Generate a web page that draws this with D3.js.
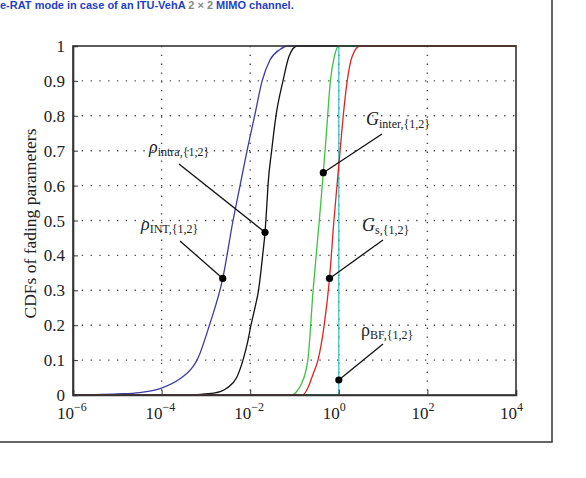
<!DOCTYPE html>
<html>
<head>
<meta charset="utf-8">
<script src="https://cdn.jsdelivr.net/npm/d3@7"></script>
<style>
  body { margin: 0; background: #fff; }
  svg { display: block; }
  text { font-family: 'Liberation Serif', 'DejaVu Serif', serif; fill: #222; }
</style>
</head>
<body>
<div id="chart"></div>
<script>
// CDF curves: x values and cumulative probability
const rhoIntX = [1e-6, 3.2e-6, 1e-5, 3.2e-5, 1e-4, 2.5e-4, 5e-4, 6.3e-4, 1.2e-3, 2.4e-3, 4.1e-3, 5.9e-3, 8.5e-3, 1.26e-2, 1.86e-2, 2.8e-2, 4.7e-2, 7.1e-2, 1e4]
const rhoIntF = [0, 0.001, 0.003, 0.007, 0.02, 0.045, 0.08, 0.1, 0.2, 0.334, 0.5, 0.6, 0.7, 0.8, 0.9, 0.96, 0.99, 1, 1]

const rhoIntraX = [1e-6, 4.4e-4, 9.5e-4, 2.1e-3, 3.0e-3, 4.95e-3, 6.87e-3, 8.69e-3, 1.04e-2, 1.28e-2, 1.54e-2, 1.73e-2, 1.91e-2, 2.16e-2, 2.39e-2, 2.52e-2, 3.05e-2, 3.82e-2, 5.5e-2, 7.5e-2, 0.114, 1e4]
const rhoIntraF = [0, 0, 0.003, 0.01, 0.02, 0.05, 0.1, 0.15, 0.2, 0.25, 0.3, 0.35, 0.4, 0.466, 0.55, 0.6, 0.7, 0.8, 0.9, 0.97, 1, 1]

const gInterX = [1e-6, 0.087, 0.112, 0.141, 0.2, 0.263, 0.363, 0.447, 0.525, 0.646, 0.794, 1.0, 1e4]
const gInterF = [0, 0, 0.01, 0.03, 0.1, 0.3, 0.5, 0.637, 0.75, 0.9, 0.97, 1, 1]

const gSX = [1e-6, 0.151, 0.2, 0.263, 0.339, 0.468, 0.617, 0.776, 1.07, 1.26, 1.55, 2.0, 3.0, 1e4]
const gSF = [0, 0, 0.02, 0.06, 0.1, 0.2, 0.334, 0.5, 0.7, 0.8, 0.9, 0.97, 1, 1]

const rhoBfX = [1e-6, 1, 1, 1e4]
const rhoBfF = [0, 0, 1, 1]

const xTicks = [-6, -4, -2, 0, 2, 4]
const yTicks = [0, 0.1, 0.2, 0.3, 0.4, 0.5, 0.6, 0.7, 0.8, 0.9, 1]

// annotations: marker point on curve, label position, label parts
const notes = [
  { x: 2.16e-2, f: 0.466, lx: 179, ly: 164, tx: 149, ty: 153, main: 'ρ', sub: 'intra,{1,2}', italic: true },
  { x: 2.4e-3, f: 0.334, lx: 180, ly: 241, tx: 141, ty: 230, main: 'ρ', sub: 'INT,{1,2}', italic: true },
  { x: 0.447, f: 0.637, lx: 382, ly: 134, tx: 366, ty: 125, main: 'G', sub: 'inter,{1,2}', italic: true },
  { x: 0.617, f: 0.334, lx: 383, ly: 240, tx: 362, ty: 231, main: 'G', sub: 's,{1,2}', italic: true },
  { x: 1, f: 0.043, lx: 383, ly: 344, tx: 361, ty: 336, main: 'ρ', sub: 'BF,{1,2}', italic: false }
]

const W = 586, H = 478
const m = { left: 73, top: 46, right: 516, bottom: 395 }

const svg = d3.select('#chart').append('svg')
  .attr('width', W).attr('height', H)

// outer figure frame (partly outside the window) and caption line
svg.append('rect')
  .attr('x', -10).attr('y', -20)
  .attr('width', 562).attr('height', 462)
  .attr('fill', 'none').attr('stroke', '#333').attr('stroke-width', 1.5)

const cap = svg.append('text')
  .attr('x', 0).attr('y', 9)
  .style('font-family', 'Arial, "Liberation Sans", sans-serif')
  .style('font-weight', 'bold').style('font-size', '11px')
cap.append('tspan').attr('fill', '#1f3fc4').text('e-RAT mode in case of an ITU-VehA ')
cap.append('tspan').attr('fill', '#888').text('2 × 2')
cap.append('tspan').attr('fill', '#1f3fc4').text(' MIMO channel.')

const x = d3.scaleLog().domain([1e-6, 1e4]).range([m.left, m.right])
const y = d3.scaleLinear().domain([0, 1]).range([m.bottom, m.top])

// dotted grid
const grid = svg.append('g')
grid.selectAll('.gx')
  .data(xTicks.slice(1, -1))
  .enter().append('line')
  .attr('x1', d => x(Math.pow(10, d))).attr('x2', d => x(Math.pow(10, d)))
  .attr('y1', m.top).attr('y2', m.bottom)
grid.selectAll('.gy')
  .data(yTicks.slice(1, -1))
  .enter().append('line')
  .attr('x1', m.left).attr('x2', m.right)
  .attr('y1', d => y(d)).attr('y2', d => y(d))
grid.selectAll('line')
  .attr('stroke', '#444').attr('stroke-width', 1.4)
  .attr('stroke-dasharray', '1.3,7.5')

// curves
const smooth = d3.line().x(d => x(d[0])).y(d => y(d[1])).curve(d3.curveMonotoneX)
const step = d3.line().x(d => x(d[0])).y(d => y(d[1]))
const series = [
  { xs: rhoBfX, fs: rhoBfF, color: '#3cc4c8', gen: step },
  { xs: rhoIntX, fs: rhoIntF, color: '#3b3ba6', gen: smooth },
  { xs: rhoIntraX, fs: rhoIntraF, color: '#111', gen: smooth },
  { xs: gInterX, fs: gInterF, color: '#3cc23c', gen: smooth },
  { xs: gSX, fs: gSF, color: '#e32222', gen: smooth }
]
svg.append('g').selectAll('path')
  .data(series)
  .enter().append('path')
  .attr('d', s => s.gen(d3.zip(s.xs, s.fs)))
  .attr('fill', 'none')
  .attr('stroke', s => s.color)
  .attr('stroke-width', 1.3)

// axes box with inward ticks
const axX = d3.axisBottom(x).tickValues(xTicks.map(e => Math.pow(10, e)))
  .tickSize(-5).tickFormat('')
const axY = d3.axisLeft(y).tickValues(yTicks).tickSize(-5).tickFormat('')
svg.append('g').attr('transform', `translate(0,${m.bottom})`).call(axX)
svg.append('g').attr('transform', `translate(${m.left},0)`).call(axY)
svg.selectAll('.domain, .tick line').attr('stroke', '#333')
svg.selectAll('.domain').attr('stroke-width', 1.6)
svg.append('rect')
  .attr('x', m.left).attr('y', m.top)
  .attr('width', m.right - m.left).attr('height', m.bottom - m.top)
  .attr('fill', 'none').attr('stroke', '#333').attr('stroke-width', 1.6)

// tick labels
svg.append('g').selectAll('text')
  .data(yTicks)
  .enter().append('text')
  .attr('x', m.left - 8).attr('y', d => y(d) + 6)
  .attr('text-anchor', 'end')
  .style('font-size', '17px')
  .text(d => d === 0 || d === 1 ? d : d.toFixed(1))

const xl = svg.append('g').selectAll('text')
  .data(xTicks)
  .enter().append('text')
  .attr('x', d => x(Math.pow(10, d)) - 16).attr('y', m.bottom + 24)
  .style('font-size', '17px')
xl.append('tspan').text('10')
xl.append('tspan').attr('dy', -8).style('font-size', '12px')
  .text(d => d < 0 ? '−' + (-d) : d)

svg.append('text')
  .attr('transform', `translate(36,${(m.top + m.bottom) / 2 + 3}) rotate(-90)`)
  .attr('text-anchor', 'middle')
  .style('font-size', '17.5px')
  .text('CDFs of fading parameters')

// annotations
const ann = svg.append('g').selectAll('g')
  .data(notes)
  .enter().append('g')
ann.append('line')
  .attr('x1', d => d.lx).attr('y1', d => d.ly)
  .attr('x2', d => x(d.x)).attr('y2', d => y(d.f))
  .attr('stroke', '#111').attr('stroke-width', 1.3)
ann.append('circle')
  .attr('cx', d => x(d.x)).attr('cy', d => y(d.f))
  .attr('r', 3.6).attr('fill', '#000')
const lab = ann.append('text')
  .attr('x', d => d.tx).attr('y', d => d.ty)
lab.append('tspan')
  .style('font-size', '18px')
  .style('font-style', d => d.italic ? 'italic' : 'normal')
  .text(d => d.main)
lab.append('tspan')
  .attr('dy', 3)
  .style('font-size', '12px')
  .text(d => d.sub)
</script>
</body>
</html>
